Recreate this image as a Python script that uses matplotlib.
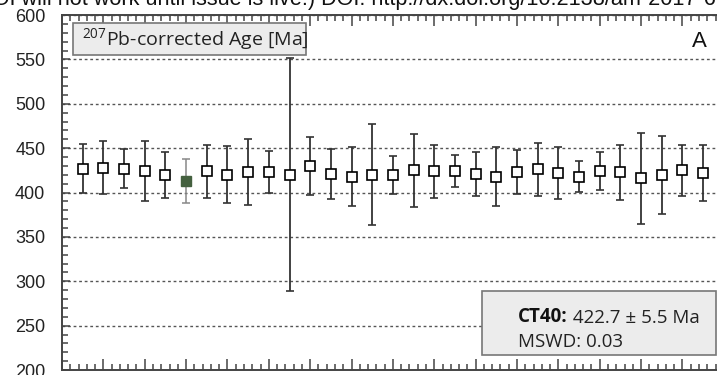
import matplotlib
matplotlib.use("Agg")
import matplotlib.pyplot as plt
from matplotlib.patches import Rectangle
from matplotlib.ticker import MultipleLocator

# 207Pb-corrected spot ages (Ma) and 2-sigma errors, analysis order
spot = list(range(1, 32))
age = [427, 428, 427, 424, 420, 413, 424, 420, 423, 423,
       420, 430, 421, 418, 420, 420, 425, 424, 424, 421,
       418, 423, 426, 422, 418, 424, 423, 416, 420, 425, 422]
err = [27.5, 30, 21.5, 34, 26, 25, 30, 32, 37.5, 24,
       131, 33, 28, 33.5, 57, 21.5, 41, 30, 18, 25,
       33, 25, 30, 29, 17.5, 21.5, 31, 51, 44, 29, 32]
# spot 6 is left out of the weighted mean
rejected = [5]

mean_label = "CT40:"
mean_text = " 422.7 \u00b1 5.5 Ma"
mswd_text = "MSWD: 0.03"

plt.rcParams['font.family'] = ['Liberation Sans', 'DejaVu Sans']
plt.rcParams['mathtext.default'] = 'regular'

fig = plt.figure(figsize=(7.17, 3.75), dpi=100)
ax = fig.add_axes([0.0865, 0.0133, 0.923, 0.9467])

kept = [i for i in range(len(spot)) if i not in rejected]
ax.errorbar([spot[i] for i in kept], [age[i] for i in kept],
            yerr=[err[i] for i in kept], fmt='s', ms=7, mfc='white',
            mec='black', mew=1.2, ecolor='#333333', elinewidth=1.3,
            capsize=3, capthick=1.3, zorder=3)
ax.errorbar([spot[i] for i in rejected], [age[i] for i in rejected],
            yerr=[err[i] for i in rejected], fmt='s', ms=7, mfc='#44603f',
            mec='#44603f', ecolor='#888888', elinewidth=1.1,
            capsize=3, capthick=1.1, zorder=3)

ax.set_xlim(0, 32)
ax.set_ylim(200, 600)
ax.xaxis.set_major_locator(MultipleLocator(2))
ax.xaxis.set_minor_locator(MultipleLocator(0.4))
ax.yaxis.set_major_locator(MultipleLocator(50))
ax.yaxis.set_minor_locator(MultipleLocator(10))
ax.tick_params(axis='both', which='both', direction='in', color='#444444',
               top=True, width=1.1)
ax.tick_params(axis='x', which='major', length=8, labelbottom=False)
ax.tick_params(axis='x', which='minor', length=4)
ax.tick_params(axis='y', which='major', length=6, labelsize=13, pad=12,
               labelcolor='#222222')
ax.tick_params(axis='y', which='minor', length=4)
for s in ax.spines.values():
    s.set_color('#444444')
    s.set_linewidth(1.4)

ax.yaxis.grid(True, linestyle=(0, (2, 2)), color='#555555', linewidth=1.0)
ax.set_axisbelow(True)

# title box, top left
ax.add_patch(Rectangle((0.0162, 0.887), 0.3524, 0.0905, transform=ax.transAxes,
                       facecolor='#ececec', edgecolor='#777777', lw=1.2, zorder=4))
ax.text(0.0297, 0.932, "$^{207}$Pb-corrected Age [Ma]", transform=ax.transAxes,
        ha='left', va='center', fontsize=14, family='Open Sans', color='#222222',
        zorder=5)

ax.text(0.9637, 0.9107, "A", transform=ax.transAxes, ha='center',
        va='baseline', fontsize=16, color='#111111')

# weighted mean box, bottom right
ax.add_patch(Rectangle((0.6344, 0.0423), 0.3536, 0.1802, transform=ax.transAxes,
                       facecolor='#ececec', edgecolor='#777777', lw=1.2, zorder=4))
t1 = ax.text(0.6888, 0.1362, mean_label, transform=ax.transAxes, ha='left',
             va='baseline', fontsize=13.5, family='Open Sans', weight='bold',
             color='#111111', zorder=5)
ax.annotate(mean_text, xy=(1, 0), xycoords=t1, ha='left', va='bottom',
            fontsize=13.5, family='Open Sans', color='#222222', zorder=5)
ax.text(0.6888, 0.0657, mswd_text, transform=ax.transAxes, ha='left',
        va='baseline', fontsize=13.5, family='Open Sans', color='#222222',
        zorder=5)

# running header of the page, only its lower edge falls inside the figure
fig.text(0.999, 0.987, "(DOI will not work until issue is live.) DOI: http://dx.doi.org/10.2138/am-2017-6",
         ha='right', va='baseline', fontsize=15.6, color='#111111')

fig.savefig('out.png', dpi=100, facecolor='white')
